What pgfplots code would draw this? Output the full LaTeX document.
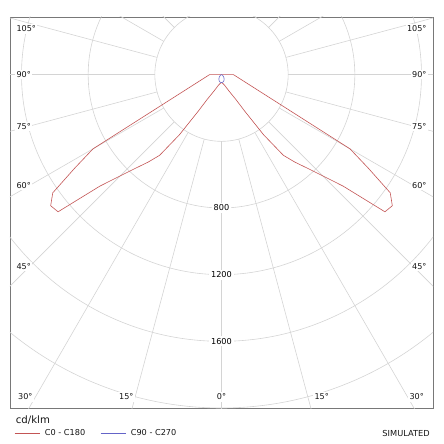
\documentclass[border=0pt]{standalone}
\usepackage{pgfplots}
\pgfplotsset{compat=1.18}
\usepackage{fontspec}
\setmainfont{DejaVu Sans}
\definecolor{gridc}{RGB}{212,212,212}
\definecolor{redc}{RGB}{195,85,85}
\definecolor{bluec}{RGB}{100,100,200}
\definecolor{boxc}{RGB}{120,120,120}
\definecolor{txtc}{RGB}{20,20,20}

\pgfplotstableread{
ang r
0 72
90 0
180 72
210 890
212.5 1045
215 1236
217.5 1292
220 1280
222.5 990
225 858
227.5 760
230 685
232.5 610
235 440
237.5 260
240 170
245 111
250 80
255 63
260 55
265 50
270 48
275 50
280 55
285 63
290 80
295 111
300 170
302.5 260
305 440
307.5 610
310 685
312.5 760
315 858
317.5 990
320 1280
322.5 1292
325 1236
327.5 1045
330 890
360 72
}\redtab

\pgfplotstableread{
ang r
180 0
190 1
200 3
210 7
220 13
230 22
240 32
250 40
260 46
270 48
280 46
290 40
300 32
310 22
320 13
330 7
340 3
350 1
360 0
}\bluetab

\begin{document}
\begin{tikzpicture}
\begin{axis}[name=ax, scale only axis, width=423bp, height=391bp,
  xmin=-1269, xmax=1269, ymin=-2000, ymax=346,
  xtick=\empty, ytick=\empty,
  axis line style={boxc, line width=0.8bp},
  clip=true,
  legend columns=2,
  legend image code/.code={\draw[#1] (0bp,0bp) -- (25bp,0bp);},
  legend style={draw=none, fill=none, at={(axis description cs:0.0102,-0.0647)},
    anchor=west, font=\fontsize{8.2}{9.6}\selectfont, text=txtc,
    inner sep=0pt, outer sep=0pt, nodes={inner sep=0pt},
    /tikz/every odd column/.append style={column sep=5bp},
    /tikz/every even column/.append style={column sep=15bp}},
  every node/.append style={text=txtc},
]
% grid circles
\pgfplotsinvokeforeach{400,800,1200,1600,2000}{
  \draw[gridc, line width=0.6bp] (axis cs:0,0) circle[radius=#1];
}
% radial lines
\pgfplotsinvokeforeach{0,15,...,345}{
  \draw[gridc, line width=0.6bp] (axis cs:{400*cos(#1)},{400*sin(#1)}) -- (axis cs:{3000*cos(#1)},{3000*sin(#1)});
}
% circle labels
\node[fill=white, inner sep=2bp, font=\fontsize{8.2}{9}\selectfont] at (axis cs:0,-800) {800};
\node[fill=white, inner sep=2bp, font=\fontsize{8.2}{9}\selectfont] at (axis cs:0,-1200) {1200};
\node[fill=white, inner sep=2bp, font=\fontsize{8.2}{9}\selectfont] at (axis cs:0,-1600) {1600};
% angle labels
\begin{scope}[every node/.style={fill=white, inner sep=1.5bp, font=\fontsize{8.1}{9}\selectfont, text=txtc}]
\node[anchor=west] at (axis cs:-1240,274) {105°};
\node[anchor=west] at (axis cs:-1240,0) {90°};
\node[anchor=west] at (axis cs:-1240,-310) {75°};
\node[anchor=west] at (axis cs:-1240,-666) {60°};
\node[anchor=west] at (axis cs:-1240,-1150) {45°};
\node[anchor=east] at (axis cs:1240,274) {105°};
\node[anchor=east] at (axis cs:1240,0) {90°};
\node[anchor=east] at (axis cs:1240,-310) {75°};
\node[anchor=east] at (axis cs:1240,-666) {60°};
\node[anchor=east] at (axis cs:1240,-1150) {45°};
\node at (axis cs:-1177,-1934) {30°};
\node at (axis cs:-571,-1934) {15°};
\node at (axis cs:0,-1934) {0°};
\node at (axis cs:601,-1934) {15°};
\node at (axis cs:1171,-1934) {30°};
\end{scope}
\addplot[redc, line width=0.6bp, data cs=polar] table[x=ang, y=r] {\redtab};
\addlegendentry{C0 - C180}
\addplot[bluec, line width=0.6bp, data cs=polar] table[x=ang, y=r] {\bluetab};
\addlegendentry{C90 - C270}
\end{axis}
\node[anchor=west, inner sep=0pt, font=\fontsize{10.2}{12}\selectfont, text=txtc] at ([xshift=5.7bp, yshift=-12bp]ax.south west) {cd/klm};
\node[anchor=east, inner sep=0pt, font=\fontsize{8.3}{9.6}\selectfont, text=txtc] at ([xshift=-3bp, yshift=-25.3bp]ax.south east) {SIMULATED};
\path ([xshift=-10bp,yshift=-36bp]ax.south west) rectangle ([xshift=11bp,yshift=17bp]ax.north east);
\end{tikzpicture}
\end{document}
